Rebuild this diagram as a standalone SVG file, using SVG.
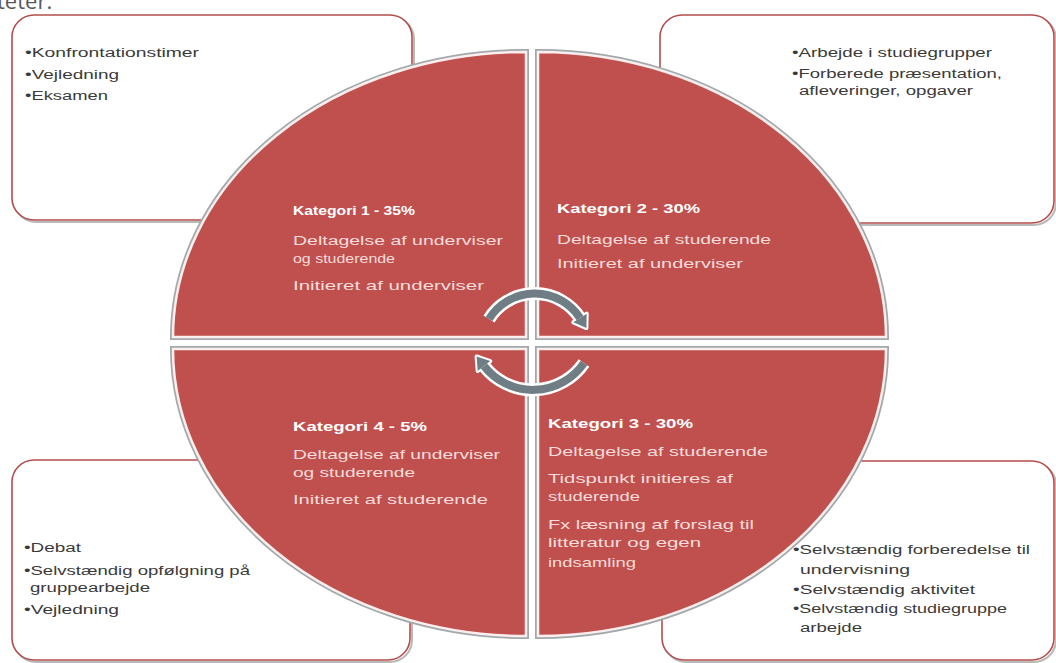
<svg xmlns="http://www.w3.org/2000/svg" width="1056" height="663" viewBox="0 0 1056 663">
<style>
.box{fill:#ffffff;stroke:#b24f4c;stroke-width:1.6}
.boxsh{fill:none;stroke:#b9b9b9;stroke-width:2}
.bt{font-family:"Liberation Sans",Arial,sans-serif;font-size:12.5px;fill:#3a3a3a}
.q{fill:#c0504d;stroke:#fbeeee;stroke-width:2.5}
.qs{fill:none;stroke:#a3a8ab;stroke-width:6}
.kt{font-family:"Liberation Sans",Arial,sans-serif;font-size:12px;font-weight:bold;fill:#ffffff}
.kb{font-family:"Liberation Sans",Arial,sans-serif;font-size:13.5px;fill:#f5dcdb}
.aw{fill:none;stroke:#ffffff;stroke-width:13}
.ag{fill:none;stroke:#6f7e84;stroke-width:8}
.hw{fill:#ffffff;stroke:#ffffff;stroke-width:4;stroke-linejoin:round}
.hg{fill:#6f7e84}
</style>
<rect width="1056" height="663" fill="#ffffff"/>
<text x="-3" y="9" font-family="'Open Sans','Liberation Sans',sans-serif" font-size="22" fill="#595959">teter.</text>

<g id="box-tl">
<rect class="boxsh" x="14" y="17" width="400" height="205" rx="22"/>
<rect class="box" x="12" y="15" width="400" height="205" rx="22"/>
<text class="bt" x="25" y="57" textLength="174" lengthAdjust="spacingAndGlyphs">•Konfrontationstimer</text>
<text class="bt" x="25" y="79" textLength="94" lengthAdjust="spacingAndGlyphs">•Vejledning</text>
<text class="bt" x="25" y="100" textLength="83" lengthAdjust="spacingAndGlyphs">•Eksamen</text>
</g>
<g id="box-tr">
<rect class="boxsh" x="662" y="17" width="394" height="208" rx="22"/>
<rect class="box" x="660" y="15" width="394" height="208" rx="22"/>
<text class="bt" x="792" y="57" textLength="200" lengthAdjust="spacingAndGlyphs">•Arbejde i studiegrupper</text>
<text class="bt" x="792" y="78" textLength="210" lengthAdjust="spacingAndGlyphs">•Forberede præsentation,</text>
<text class="bt" x="799" y="95" textLength="174" lengthAdjust="spacingAndGlyphs">afleveringer, opgaver</text>
</g>
<g id="box-bl">
<rect class="boxsh" x="14" y="462" width="398" height="200" rx="22"/>
<rect class="box" x="12" y="460" width="398" height="200" rx="22"/>
<text class="bt" x="24" y="552" textLength="57" lengthAdjust="spacingAndGlyphs">•Debat</text>
<text class="bt" x="24" y="575" textLength="226" lengthAdjust="spacingAndGlyphs">•Selvstændig opfølgning på</text>
<text class="bt" x="30" y="592" textLength="120" lengthAdjust="spacingAndGlyphs">gruppearbejde</text>
<text class="bt" x="24" y="614" textLength="95" lengthAdjust="spacingAndGlyphs">•Vejledning</text>
</g>
<g id="box-br">
<rect class="boxsh" x="664" y="463" width="392" height="199" rx="22"/>
<rect class="box" x="662" y="461" width="392" height="199" rx="22"/>
<text class="bt" x="793" y="554" textLength="237" lengthAdjust="spacingAndGlyphs">•Selvstændig forberedelse til</text>
<text class="bt" x="800" y="574" textLength="110" lengthAdjust="spacingAndGlyphs">undervisning</text>
<text class="bt" x="793" y="594" textLength="182" lengthAdjust="spacingAndGlyphs">•Selvstændig aktivitet</text>
<text class="bt" x="793" y="613" textLength="214" lengthAdjust="spacingAndGlyphs">•Selvstændig studiegruppe</text>
<text class="bt" x="800" y="632" textLength="62" lengthAdjust="spacingAndGlyphs">arbejde</text>
</g>

<g id="kategori-1">
<path class="qs" d="M526,337 L173,337 A353,285 0 0 1 526,52 Z"/>
<path class="q" d="M526,337 L173,337 A353,285 0 0 1 526,52 Z"/>
<text class="kt" x="293" y="215" textLength="122" lengthAdjust="spacingAndGlyphs">Kategori 1 - 35%</text>
<text class="kb" x="293" y="245" textLength="210" lengthAdjust="spacingAndGlyphs">Deltagelse af underviser</text>
<text class="kb" x="293" y="263" textLength="102" lengthAdjust="spacingAndGlyphs">og studerende</text>
<text class="kb" x="293" y="290" textLength="191" lengthAdjust="spacingAndGlyphs">Initieret af underviser</text>
</g>
<g id="kategori-2">
<path class="qs" d="M538,337 L538,52 A348,285 0 0 1 886,337 Z"/>
<path class="q" d="M538,337 L538,52 A348,285 0 0 1 886,337 Z"/>
<text class="kt" x="557" y="213" textLength="143" lengthAdjust="spacingAndGlyphs">Kategori 2 - 30%</text>
<text class="kb" x="557" y="244" textLength="214" lengthAdjust="spacingAndGlyphs">Deltagelse af studerende</text>
<text class="kb" x="557" y="268" textLength="186" lengthAdjust="spacingAndGlyphs">Initieret af underviser</text>
</g>
<g id="kategori-3">
<path class="qs" d="M538,349 L886,349 A348,287 0 0 1 538,636 Z"/>
<path class="q" d="M538,349 L886,349 A348,287 0 0 1 538,636 Z"/>
<text class="kt" x="548" y="428" textLength="145" lengthAdjust="spacingAndGlyphs">Kategori 3 - 30%</text>
<text class="kb" x="548" y="456" textLength="220" lengthAdjust="spacingAndGlyphs">Deltagelse af studerende</text>
<text class="kb" x="548" y="483" textLength="185" lengthAdjust="spacingAndGlyphs">Tidspunkt initieres af</text>
<text class="kb" x="548" y="501" textLength="92" lengthAdjust="spacingAndGlyphs">studerende</text>
<text class="kb" x="548" y="529" textLength="206" lengthAdjust="spacingAndGlyphs">Fx læsning af forslag til</text>
<text class="kb" x="548" y="547" textLength="153" lengthAdjust="spacingAndGlyphs">litteratur og egen</text>
<text class="kb" x="548" y="567" textLength="88" lengthAdjust="spacingAndGlyphs">indsamling</text>
</g>
<g id="kategori-4">
<path class="qs" d="M526,349 L526,636 A353,287 0 0 1 173,349 Z"/>
<path class="q" d="M526,349 L526,636 A353,287 0 0 1 173,349 Z"/>
<text class="kt" x="293" y="431" textLength="134" lengthAdjust="spacingAndGlyphs">Kategori 4 - 5%</text>
<text class="kb" x="293" y="459" textLength="207" lengthAdjust="spacingAndGlyphs">Deltagelse af underviser</text>
<text class="kb" x="293" y="477" textLength="122" lengthAdjust="spacingAndGlyphs">og studerende</text>
<text class="kb" x="293" y="504" textLength="195" lengthAdjust="spacingAndGlyphs">Initieret af studerende</text>
</g>

<g id="connectors">
<path class="aw" d="M489,319 A54,54 0 0 1 580,318"/>
<polygon class="hw" points="586.7,313.7 586.4,328.1 573.3,322.3"/>
<path class="aw" d="M584,363 A62,62 0 0 1 484,366"/>
<polygon class="hw" points="477.7,370.9 476.6,356.5 490.3,361.1"/>
<path class="ag" d="M489,319 A54,54 0 0 1 580,318"/>
<polygon class="hg" points="586.7,313.7 586.4,328.1 573.3,322.3"/>
<path class="ag" d="M584,363 A62,62 0 0 1 484,366"/>
<polygon class="hg" points="477.7,370.9 476.6,356.5 490.3,361.1"/>
</g>
</svg>
